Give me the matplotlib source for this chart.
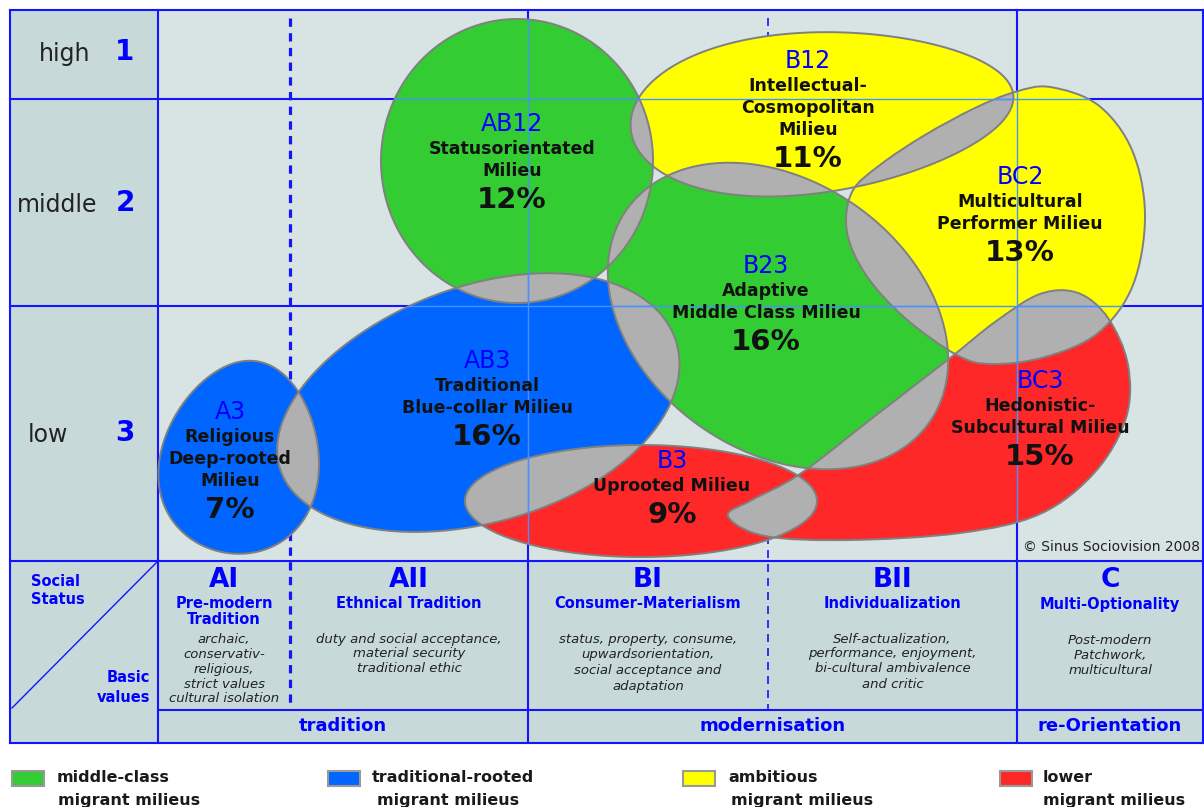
import numpy as np
import matplotlib
matplotlib.use("Agg")
import matplotlib.pyplot as plt
from matplotlib.path import Path
from matplotlib.patches import PathPatch, Rectangle
from matplotlib.lines import Line2D

plt.rcParams['font.family'] = ['DejaVu Sans']

# ---------------- data ----------------
status_labels = ["high", "middle", "low"]
status_numbers = ["1", "2", "3"]

milieu_codes = ["AB12", "B12", "BC2", "B23", "AB3", "A3", "B3", "BC3"]
milieu_names = [
    ["Statusorientated", "Milieu"],
    ["Intellectual-", "Cosmopolitan", "Milieu"],
    ["Multicultural", "Performer Milieu"],
    ["Adaptive", "Middle Class Milieu"],
    ["Traditional", "Blue-collar Milieu"],
    ["Religious", "Deep-rooted", "Milieu"],
    ["Uprooted Milieu"],
    ["Hedonistic-", "Subcultural Milieu"],
]
milieu_shares = [12, 11, 13, 16, 16, 7, 9, 15]
milieu_groups = ["middle", "ambitious", "ambitious", "middle",
                 "traditional", "traditional", "lower", "lower"]

value_codes = ["AI", "AII", "BI", "BII", "C"]
value_titles = [["Pre-modern", "Tradition"], ["Ethnical Tradition"],
                ["Consumer-Materialism"], ["Individualization"],
                ["Multi-Optionality"]]
value_descs = [
    ["archaic,", "conservativ-", "religious,", "strict values", "cultural isolation"],
    ["duty and social acceptance,", "material security", "traditional ethic"],
    ["status, property, consume,", "upwardsorientation,", "social acceptance and", "adaptation"],
    ["Self-actualization,", "performance, enjoyment,", "bi-cultural ambivalence", "and critic"],
    ["Post-modern", "Patchwork,", "multicultural"],
]
phase_labels = ["tradition", "modernisation", "re-Orientation"]

legend_groups = ["middle", "traditional", "ambitious", "lower"]
legend_labels = [["middle-class", "migrant milieus"],
                 ["traditional-rooted", "migrant milieus"],
                 ["ambitious", "migrant milieus"],
                 ["lower", "migrant milieus"]]

# ---------------- styles / layout ----------------
group_colors = {"middle": "#33cc33", "traditional": "#0066ff",
                "ambitious": "#ffff00", "lower": "#ff2828"}
OVERLAP = "#b0b0b0"
EDGE = "#808080"
GRID = "#1414ff"
LIGHT = "#4a90ff"
BG_MAIN = "#d8e3e3"
BG_SIDE = "#c8d9da"
CODE_BLUE = "#0000ff"

X0, X1 = 10, 1203
XL = 158
Y0, YR1, YR2, YM, YT, YB = 10, 99, 306, 561, 710, 743
col_edges = [158, 290, 528, 768, 1017, 1203]
row_centers = [52, 203, 433]
row_label_x = [65, 57, 48]
phase_spans = [(158, 528), (528, 1017), (1017, 1203)]

# elliptic blobs: cx, cy, half-axis a, half-axis b, visual angle (deg, ccw), egg factor
geom = {
    "AB12": (517, 161, 136, 142, 0, 0.0),
    "B12": (822, 112, 192, 80, 5, -0.15),
    "B23": (778, 316, 185, 135, -35, 0.0),
    "AB3": (478, 405, 208, 118, 18, 0.05),
    "A3": (241, 457, 97, 79, 80, -0.15),
    "B3": (641, 501, 176, 56, 0, 0.0),
}
# free-form blobs: smooth closed outline through control points
outlines = {
    "BC2": [(1050, 87), (1098, 105), (1132, 150), (1145, 215), (1133, 285),
            (1098, 333), (1045, 357), (992, 364), (957, 355), (905, 318),
            (866, 275), (847, 232), (852, 192), (880, 165), (925, 135),
            (975, 108), (1015, 92)],
    "BC3": [(728, 516), (765, 536), (850, 540), (960, 533), (1040, 514),
            (1095, 472), (1126, 418), (1128, 365), (1108, 318), (1078, 293),
            (1040, 294), (995, 322), (950, 358), (875, 416), (800, 474), (752, 500)],
}

label_pos = {
    "AB12": (512, 124), "B12": (808, 61), "BC2": (1020, 177), "B23": (766, 266),
    "AB3": (487, 361), "A3": (230, 412), "B3": (672, 461), "BC3": (1040, 381),
}


def ellipse_path(cx, cy, a, b, ang, egg=0.0, n=500):
    t = np.linspace(0, 2 * np.pi, n, endpoint=False)
    u = a * np.cos(t)
    v = b * np.sin(t) * (1 + egg * np.cos(t))
    ph = np.radians(ang)
    x = cx + u * np.cos(ph) + v * np.sin(ph)
    y = cy - u * np.sin(ph) + v * np.cos(ph)
    pts = np.column_stack([x, y])
    verts = np.vstack([pts, pts[:1]])
    codes = [Path.MOVETO] + [Path.LINETO] * (n - 1) + [Path.CLOSEPOLY]
    return Path(verts, codes)


def smooth_closed(points):
    P = np.asarray(points, float)
    n = len(P)
    verts = [P[0]]
    codes = [Path.MOVETO]
    for i in range(n):
        p0, p1, p2, p3 = P[i - 1], P[i], P[(i + 1) % n], P[(i + 2) % n]
        verts += [p1 + (p2 - p0) / 6, p2 - (p3 - p1) / 6, p2]
        codes += [Path.CURVE4] * 3
    verts.append(P[0])
    codes.append(Path.CLOSEPOLY)
    return Path(np.array(verts), codes)


fig = plt.figure(figsize=(12.04, 8.07), dpi=100)
ax = fig.add_axes([0, 0, 1, 1])
ax.set_xlim(0, 1204)
ax.set_ylim(807, 0)
ax.axis("off")

# backgrounds
ax.add_patch(Rectangle((XL, Y0), X1 - XL, YM - Y0, fc=BG_MAIN, ec="none", zorder=0))
ax.add_patch(Rectangle((X0, Y0), XL - X0, YM - Y0, fc=BG_SIDE, ec="none", zorder=0))
ax.add_patch(Rectangle((X0, YM), X1 - X0, YB - YM, fc=BG_SIDE, ec="none", zorder=0))

# grid (under blobs)
def hline(y, xa, xb, **kw):
    ax.add_line(Line2D([xa, xb], [y, y], **kw))

def vline(x, ya, yb, **kw):
    ax.add_line(Line2D([x, x], [ya, yb], **kw))

gkw = dict(color=GRID, lw=1.5, zorder=1)
for y in (Y0, YR1, YR2, YM, YB):
    hline(y, X0, X1, **gkw)
hline(YT, XL, X1, **gkw)
for x in (X0, XL, 528, 1017, X1):
    vline(x, Y0, YB, **gkw)
vline(290, 18, YT, color=GRID, lw=2.3, dashes=(2.6, 2.0), zorder=1)
vline(768, 18, YT, color=GRID, lw=1.2, dashes=(4.8, 3.6), zorder=1)
ax.add_line(Line2D([XL, 12], [YM, YT - 2], color=GRID, lw=1.0, zorder=1))

# blobs
paths = []
for c in milieu_codes:
    if c in outlines:
        paths.append(smooth_closed(outlines[c]))
    else:
        paths.append(ellipse_path(*geom[c]))
for p, g in zip(paths, milieu_groups):
    ax.add_patch(PathPatch(p, fc=group_colors[g], ec="none", zorder=2))
for i in range(len(paths)):
    for j in range(i + 1, len(paths)):
        pp = PathPatch(paths[i], fc=OVERLAP, ec="none", zorder=3)
        ax.add_patch(pp)
        pp.set_clip_path(paths[j], ax.transData)
for p in paths:
    ax.add_patch(PathPatch(p, fc="none", ec=EDGE, lw=1.4, zorder=4))

# light grid lines over blobs
for p in paths:
    for seg in ([(XL, YR1), (X1, YR1)], [(XL, YR2), (X1, YR2)],
                [(528, Y0), (528, YM)], [(1017, Y0), (1017, YM)]):
        (xa, ya), (xb, yb) = seg
        ln = Line2D([xa, xb], [ya, yb], color=LIGHT, lw=1.0, zorder=5)
        ax.add_line(ln)
        ln.set_clip_path(p, ax.transData)

# milieu labels
for code, names, share in zip(milieu_codes, milieu_names, milieu_shares):
    x, y = label_pos[code]
    ax.text(x, y, code, ha="center", va="center", fontsize=17, color=CODE_BLUE, zorder=6)
    yy = y + 25
    for nm in names:
        ax.text(x, yy, nm, ha="center", va="center", fontsize=12.5,
                fontweight="bold", color="#111111", zorder=6)
        yy += 22
    ax.text(x, yy + 7, f"{share}%", ha="center", va="center", fontsize=21,
            fontweight="bold", color="#111111", zorder=6)

# status labels
for lab, num, yc, xc in zip(status_labels, status_numbers, row_centers, row_label_x):
    ax.text(xc, yc + 2, lab, ha="center", va="center", fontsize=17, color="#222222", zorder=6)
    ax.text(125, yc, num, ha="center", va="center", fontsize=20, fontweight="bold",
            color=CODE_BLUE, zorder=6)

# bottom table
ax.text(31, 581, "Social", ha="left", va="center", fontsize=10.5, fontweight="bold", color=CODE_BLUE)
ax.text(31, 600, "Status", ha="left", va="center", fontsize=10.5, fontweight="bold", color=CODE_BLUE)
ax.text(150, 677, "Basic", ha="right", va="center", fontsize=10.5, fontweight="bold", color=CODE_BLUE)
ax.text(150, 697, "values", ha="right", va="center", fontsize=10.5, fontweight="bold", color=CODE_BLUE)

for k, (code, titles, descs) in enumerate(zip(value_codes, value_titles, value_descs)):
    xc = (col_edges[k] + col_edges[k + 1]) / 2
    ax.text(xc, 580, code, ha="center", va="center", fontsize=19, fontweight="bold", color=CODE_BLUE)
    for m, tl in enumerate(titles):
        ax.text(xc, 604 + 16 * m, tl, ha="center", va="center", fontsize=10.5,
                fontweight="bold", color=CODE_BLUE)
    ystart = 639 if k < 4 else 641
    step = 15 if k != 2 else 15.7
    for m, d in enumerate(descs):
        ax.text(xc, ystart + step * m, d, ha="center", va="center", fontsize=9.5,
                style="italic", color="#222222")

for lab, (xa, xb) in zip(phase_labels, phase_spans):
    ax.text((xa + xb) / 2, 726, lab, ha="center", va="center", fontsize=13,
            fontweight="bold", color=CODE_BLUE)

ax.text(1200, 547, "\u00a9 Sinus Sociovision 2008", ha="right", va="center",
        fontsize=10, color="#222222", zorder=6)

# legend
leg_box_x = [12, 328, 683, 1000]
leg_text_x = [57, 372, 728, 1043]
leg_text_x2 = [58, 377, 731, 1043]
for g, labs, bx, tx, tx2 in zip(legend_groups, legend_labels, leg_box_x, leg_text_x, leg_text_x2):
    ax.add_patch(Rectangle((bx, 771), 32, 15, fc=group_colors[g], ec="#999999", lw=1.5))
    ax.text(tx, 778, labs[0], ha="left", va="center", fontsize=11.5, fontweight="bold", color="#1a1a1a")
    ax.text(tx2, 800, labs[1], ha="left", va="center", fontsize=11.5, fontweight="bold", color="#1a1a1a")

fig.savefig("out.png", dpi=100, facecolor="white")
